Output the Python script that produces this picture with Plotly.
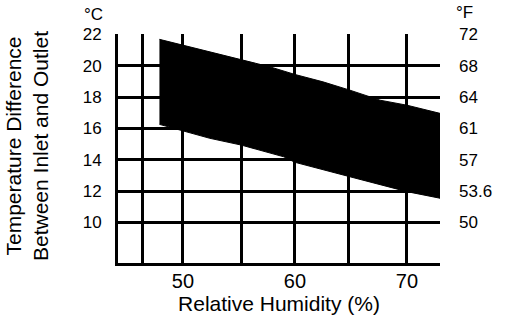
import plotly.graph_objects as go

# Band (operating region)
band_x_top = [47.9, 50.0, 55.4, 57.8, 60.0, 62.5, 64.9, 67.6, 70.0, 72.95]
band_y_top = [21.68, 21.30, 20.35, 19.92, 19.44, 18.97, 18.44, 17.80, 17.48, 16.96]
band_x_bottom = [47.9, 50.0, 52.4, 55.2, 59.0, 60.0, 64.9, 70.0, 72.95]
band_y_bottom = [16.26, 15.85, 15.37, 14.94, 14.19, 13.84, 12.92, 11.97, 11.55]

# Axes
x_grid_vals = [46.4, 50, 55.2, 60, 64.8, 70]
x_tick_text = ["", "50", "", "60", "", "70"]
y_tick_vals = [10, 12, 14, 16, 18, 20, 22]
y_tick_text_c = ["10", "12", "14", "16", "18", "20", "22"]
y_tick_text_f = ["50", "53.6", "57", "61", "64", "68", "72"]

x_range = [44.2, 72.95]
y_range = [7.42, 22.02]

FONT = "Liberation Sans, Arial, Helvetica, sans-serif"

poly_x = band_x_top + band_x_bottom[::-1]
poly_y = band_y_top + band_y_bottom[::-1]

fig = go.Figure()
fig.add_trace(go.Scatter(
    x=poly_x, y=poly_y, mode="lines", fill="toself",
    fillcolor="black", line=dict(color="black", width=1),
    hoverinfo="skip", showlegend=False,
))
fig.add_trace(go.Scatter(
    x=[60], y=[15], yaxis="y2", mode="markers",
    marker=dict(opacity=0), hoverinfo="skip", showlegend=False,
))

fig.update_layout(
    width=512, height=324,
    margin=dict(l=118, r=72, t=34, b=61),
    paper_bgcolor="white", plot_bgcolor="white",
    font=dict(family=FONT, color="black"),
    xaxis=dict(
        range=x_range, tickvals=x_grid_vals, ticktext=x_tick_text,
        showgrid=True, gridcolor="black", gridwidth=2.5,
        showline=True, linecolor="black", linewidth=3,
        ticks="", ticklabelstandoff=-2,
        tickfont=dict(size=20, family=FONT, color="black"),
        zeroline=False,
        title=dict(text="Relative Humidity (%)", font=dict(size=21, family=FONT, color="black"), standoff=5),
    ),
    yaxis=dict(
        range=y_range, tickvals=y_tick_vals, ticktext=y_tick_text_c,
        showgrid=True, gridcolor="black", gridwidth=2.5,
        showline=True, linecolor="black", linewidth=3,
        ticks="", ticklabelstandoff=10,
        tickfont=dict(size=17, family=FONT, color="black"),
        zeroline=False,
    ),
    yaxis2=dict(
        range=y_range, tickvals=y_tick_vals, ticktext=y_tick_text_f,
        overlaying="y", side="right", showgrid=False, showline=False,
        ticks="", ticklabelstandoff=18, zeroline=False,
        tickfont=dict(size=17, family=FONT, color="black"),
    ),
    annotations=[
        dict(text="Temperature Difference<br>Between Inlet and Outlet",
             xref="paper", yref="paper", x=(27 - 118) / 322, y=(263 - 146) / 229,
             xanchor="center", yanchor="middle", textangle=-90, showarrow=False,
             font=dict(size=21, family=FONT, color="black")),
        dict(text="°C", xref="paper", yref="paper", x=(93 - 118) / 322, y=(263 - 14) / 229,
             xanchor="center", yanchor="middle", showarrow=False,
             font=dict(size=17, family=FONT, color="black")),
        dict(text="°F", xref="paper", yref="paper", x=(464 - 118) / 322, y=(263 - 12) / 229,
             xanchor="center", yanchor="middle", showarrow=False,
             font=dict(size=17, family=FONT, color="black")),
    ],
)

fig.write_html(
    "out.html",
    config={"displayModeBar": False},
    post_script="document.body.style.margin='0';document.body.style.overflow='hidden';",
)
